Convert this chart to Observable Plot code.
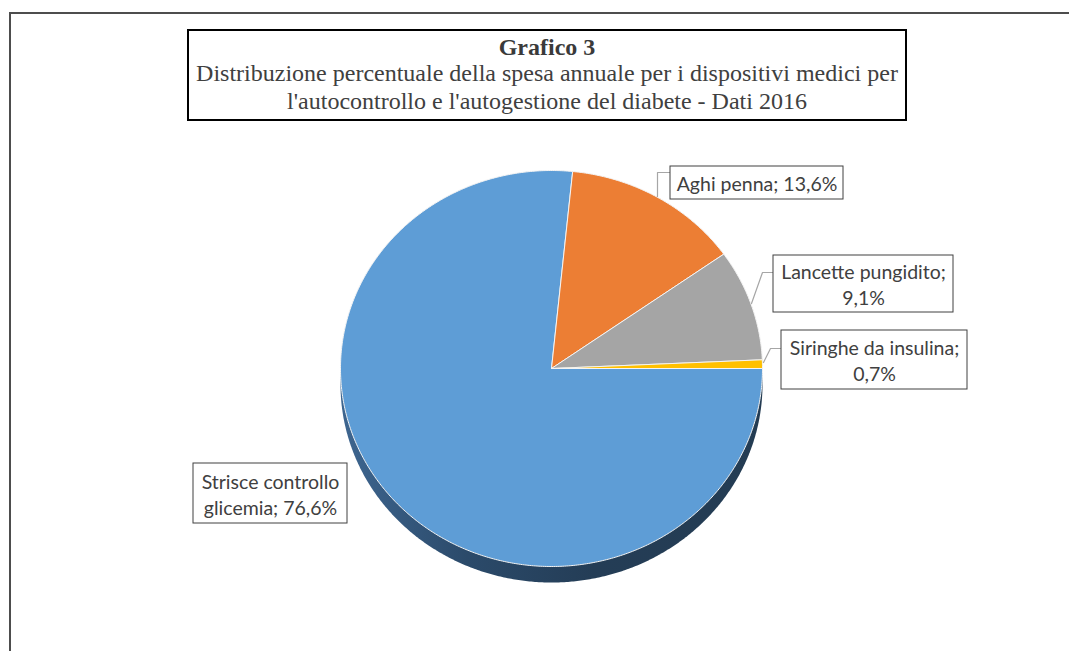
<!DOCTYPE html>
<html><head><meta charset="utf-8">
<script src="https://cdn.jsdelivr.net/npm/d3@7"></script>
<script src="https://cdn.jsdelivr.net/npm/@observablehq/plot@0.6"></script>
<style>
html,body{margin:0;padding:0;background:#fff;overflow:hidden;}
#wrap{position:relative;width:1069px;height:651px;overflow:hidden;background:#fff;}
#chart{position:absolute;left:0;top:0;}
#frame{position:absolute;left:9px;top:12px;width:1200px;height:800px;border-top:2px solid #4d4d4d;border-left:2px solid #4d4d4d;z-index:2;pointer-events:none;}
#title{position:absolute;left:187px;top:29px;width:716px;height:85px;padding-top:3px;border:2px solid #000;background:#fff;
  font-family:"Liberation Serif","Times New Roman",serif;color:#404040;text-align:center;font-size:24px;line-height:27.5px;z-index:3;white-space:nowrap;}
#title .t{font-weight:bold;font-size:24px;line-height:26px;color:#3a3a3a;}
</style></head><body>
<div id="wrap">
  <div id="chart"></div>
  <div id="frame"></div>
  <div id="title"><div class="t">Grafico 3</div><div>Distribuzione percentuale della spesa annuale per i dispositivi medici per</div><div>l'autocontrollo e l'autogestione del diabete - Dati 2016</div></div>
</div>
<script>
// ---- data ----
const categories = ["Strisce controllo glicemia", "Aghi penna", "Lancette pungidito", "Siringhe da insulina"];
const values = [76.6, 13.6, 9.1, 0.7];
const colors = ["#5e9dd6", "#ec7e34", "#a5a5a5", "#ffc000"];

// ---- layout ----
const CX = 551, CY = 368, RX = 211, RY = 198; // pie centre / radii in px (scale ranges)
const depth = 16 / RY;                          // 3D thickness in pie units
const ux = px => (px - CX) / RX;
const uy = py => (CY - py) / RY;
// label boxes (px) and number of words on first line
const labelLayout = [
  {box: [193, 347, 463, 523], words: 2, leader: null},
  {box: [670, 843, 166, 199], words: Infinity, leader: [[657, 196], [657, 172], [670, 172]]},
  {box: [773, 953, 255, 312], words: 2, leader: [[751, 303], [762, 272], [773, 272]]},
  {box: [781, 967, 330, 389], words: 3, leader: [[763, 362], [770, 348], [781, 348]]}
];

// ---- geometry from data ----
const total = d3.sum(values);
let acc = Math.PI / 2; // first slice starts at 3 o'clock, clockwise
const slicePts = categories.map((c, i) => {
  const a0 = acc, a1 = acc + values[i] / total * 2 * Math.PI;
  acc = a1;
  const n = Math.max(2, Math.ceil((a1 - a0) / (Math.PI / 360)));
  const pts = [{x: 0, y: 0}];
  for (let k = 0; k <= n; k++) {
    const a = a0 + (a1 - a0) * k / n;
    pts.push({x: Math.sin(a), y: Math.cos(a)});
  }
  pts.push({x: 0, y: 0});
  return pts;
});
const sidePts = d3.range(0, 721).map(k => {
  const a = k / 720 * 2 * Math.PI;
  return {x: Math.sin(a), y: Math.cos(a) - depth};
});

const fmt = v => v.toFixed(1).replace(".", ",") + "%";
const labels = categories.map((c, i) => {
  const L = labelLayout[i];
  const words = `${c}; ${fmt(values[i])}`.split(" ");
  const text = words.length > L.words
    ? words.slice(0, L.words).join(" ") + "\n" + words.slice(L.words).join(" ")
    : words.join(" ");
  return {
    text,
    x1: ux(L.box[0]), x2: ux(L.box[1]), y1: uy(L.box[2]), y2: uy(L.box[3]),
    cx: ux((L.box[0] + L.box[1]) / 2), cy: uy((L.box[2] + L.box[3]) / 2)
  };
});
const leaders = labelLayout.flatMap((L, i) => L.leader ? L.leader.map(([px, py]) => ({id: i, x: ux(px), y: uy(py)})) : []);

const defs = () => {
  const ns = "http://www.w3.org/2000/svg";
  const d = document.createElementNS(ns, "defs");
  d.innerHTML = `<linearGradient id="sideGrad" x1="0" x2="1" y1="0" y2="0">
      <stop offset="0" stop-color="#3e6690"/>
      <stop offset="0.3" stop-color="#2b4a6a"/>
      <stop offset="0.6" stop-color="#243d56"/>
      <stop offset="1" stop-color="#243c53"/>
    </linearGradient>`;
  return d;
};

const chart = Plot.plot({
  width: 1069, height: 651, margin: 0,
  style: {background: "transparent"},
  x: {domain: [-1, 1], range: [CX - RX, CX + RX], axis: null},
  y: {domain: [-1, 1], range: [CY + RY, CY - RY], axis: null},
  marks: [
    defs,
    Plot.line(sidePts, {x: "x", y: "y", fill: "url(#sideGrad)", stroke: "none"}),
    ...slicePts.map((pts, i) => Plot.line(pts, {x: "x", y: "y", fill: colors[i], stroke: "#f4f4f4", strokeWidth: 1, strokeLinejoin: "round"})),
    Plot.line(leaders, {x: "x", y: "y", z: "id", stroke: "#a6a6a6", strokeWidth: 1.2}),
    Plot.rect(labels, {x1: "x1", x2: "x2", y1: "y1", y2: "y2", fill: "white", stroke: "#404040", strokeWidth: 1}),
    Plot.text(labels, {x: "cx", y: "cy", text: "text", fontSize: 19.5, lineHeight: 26 / 19.5, fill: "#404040", fontFamily: "Lato, 'Open Sans', sans-serif", textAnchor: "middle"})
  ]
});
document.getElementById("chart").appendChild(chart);
</script>
</body></html>
